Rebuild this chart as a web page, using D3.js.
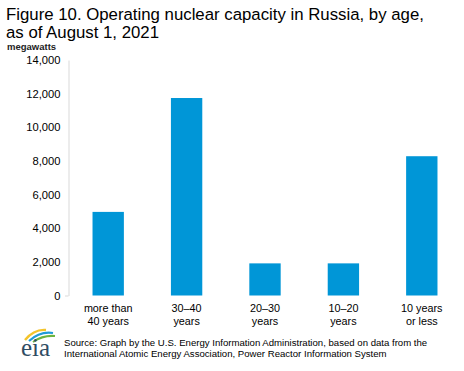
<!DOCTYPE html>
<meta charset="utf-8">
<script src="https://d3js.org/d3.v7.min.js"></script>
<style>
  body { margin: 0; background: #fff; }
  text { font-family: "Liberation Sans", Arial, sans-serif; fill: #000; }
</style>
<svg id="chart" width="464" height="371"></svg>
<script>
  // data
  var ageGroups = [["more than", "40 years"], ["30\u201340", "years"], ["20\u201330", "years"], ["10\u201320", "years"], ["10 years", "or less"]];
  var capacity = [4970, 11740, 1910, 1910, 8280];
  var yTicks = [0, 2000, 4000, 6000, 8000, 10000, 12000, 14000];

  var svg = d3.select("#chart");

  var x = d3.scaleBand()
      .domain(d3.range(ageGroups.length))
      .range([69, 461])
      .paddingInner(0.6)
      .paddingOuter(0.3);

  var y = d3.scaleLinear()
      .domain([0, 14000])
      .range([295.5, 60]);

  // title
  svg.append("text").attr("x", 6).attr("y", 20).style("font-size", "16.8px")
      .text("Figure 10. Operating nuclear capacity in Russia, by age,");
  svg.append("text").attr("x", 6).attr("y", 38).style("font-size", "16.8px")
      .text("as of August 1, 2021");
  svg.append("text").attr("x", 7).attr("y", 50).style("font-size", "9.5px")
      .style("font-weight", "bold").style("fill", "#222")
      .text("megawatts");

  // y axis
  var yAxis = svg.append("g").attr("transform", "translate(68.5,0)")
      .call(d3.axisLeft(y).tickValues(yTicks).tickSize(0).tickPadding(8)
        .tickFormat(d3.format(",")));
  yAxis.select(".domain").attr("stroke", "#d9d9d9");
  yAxis.selectAll("text").style("font-size", "11.2px").style("fill", "#000")
      .style("font-family", "'Liberation Sans', Arial, sans-serif");
  svg.append("line").attr("x1", 65).attr("x2", 68.5)
      .attr("y1", y(0) + 0.5).attr("y2", y(0) + 0.5).attr("stroke", "#d9d9d9");

  // bars
  svg.append("g").selectAll("rect")
      .data(capacity)
      .enter()
      .append("rect")
      .attr("x", function (d, i) { return x(i); })
      .attr("width", x.bandwidth())
      .attr("y", function (d) { return y(d); })
      .attr("height", function (d) { return y(0) - y(d); })
      .attr("fill", "#0096d7");

  // category labels
  var labels = svg.append("g").selectAll("text")
      .data(ageGroups)
      .enter()
      .append("text")
      .attr("text-anchor", "middle")
      .style("font-size", "10.8px");
  labels.append("tspan")
      .attr("x", function (d, i) { return x(i) + x.bandwidth() / 2; })
      .attr("y", 312)
      .text(function (d) { return d[0]; });
  labels.append("tspan")
      .attr("x", function (d, i) { return x(i) + x.bandwidth() / 2; })
      .attr("y", 325)
      .text(function (d) { return d[1]; });

  // source
  svg.append("text").attr("x", 64).attr("y", 346).style("font-size", "9.6px")
      .text("Source: Graph by the U.S. Energy Information Administration, based on data from the");
  svg.append("text").attr("x", 64).attr("y", 357).style("font-size", "9.6px")
      .text("International Atomic Energy Association, Power Reactor Information System");

  // eia logo
  var logo = svg.append("g");
  logo.append("path").attr("d", "M25,340 Q34,329 46,330").attr("fill", "none")
      .attr("stroke", "#f3c42c").attr("stroke-width", 2.4);
  logo.append("path").attr("d", "M29,341 Q40,331 53,333").attr("fill", "none")
      .attr("stroke", "#1f9bd7").attr("stroke-width", 2.2);
  logo.append("path").attr("d", "M33,342 Q43,335 55,336").attr("fill", "none")
      .attr("stroke", "#6cb33f").attr("stroke-width", 2);
  logo.append("text").attr("x", 21).attr("y", 356)
      .style("font-family", "'Liberation Serif', 'DejaVu Serif', serif")
      .style("font-size", "25px").style("fill", "#2f4c63")
      .text("eia");
</script>
